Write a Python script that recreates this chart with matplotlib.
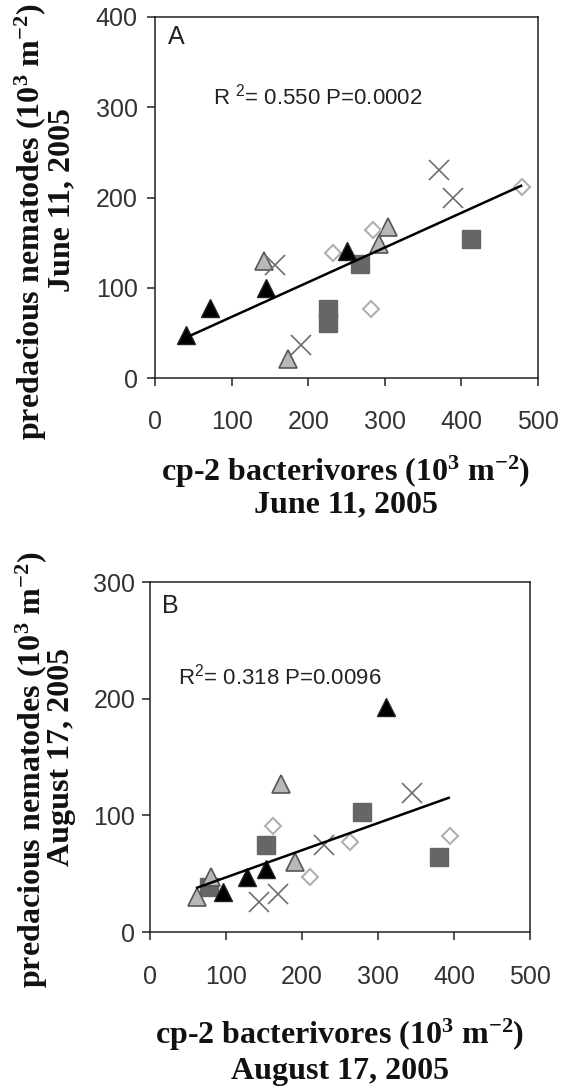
import matplotlib
matplotlib.use('Agg')
import matplotlib.pyplot as plt

W, H = 569, 1090
plt.rcParams['font.family'] = ['Liberation Sans', 'DejaVu Sans']
plt.rcParams['mathtext.default'] = 'regular'

# ---------------- data: panel A (June 11, 2005) ----------------
a_blk_tri_x = [41, 72, 145, 251]
a_blk_tri_y = [48, 78, 100, 141]
a_gry_tri_x = [142, 174, 293, 304]
a_gry_tri_y = [130, 21, 149, 167]
a_sq_x = [226, 226, 267, 412]
a_sq_y = [77, 61, 126, 154]
a_dia_x = [232, 284, 282, 479]
a_dia_y = [139, 164, 76, 212]
a_cross_x = [157, 190, 371, 389]
a_cross_y = [125, 37, 230, 199]
a_fit_x = [41, 478]
a_fit_y = [45, 213]
a_yticks = [0, 100, 200, 300, 400]
a_stat = "R $^{2}$= 0.550 P=0.0002"

# ---------------- data: panel B (August 17, 2005) ----------------
b_blk_tri_x = [96, 128, 152, 310]
b_blk_tri_y = [34, 47, 54, 193]
b_gry_tri_x = [62, 80, 172, 191]
b_gry_tri_y = [30, 47, 127, 60]
b_sq_x = [78, 152, 279, 380]
b_sq_y = [39, 75, 103, 64]
b_dia_x = [162, 210, 263, 395]
b_dia_y = [91, 47, 77, 82]
b_cross_x = [144, 169, 229, 345]
b_cross_y = [26, 33, 75, 119]
b_fit_x = [62, 393]
b_fit_y = [38, 115]
b_yticks = [0, 100, 200, 300]
b_stat = "R$^{2}$= 0.318 P=0.0096"

xticks = [0, 100, 200, 300, 400, 500]

fig = plt.figure(figsize=(W / 100, H / 100), dpi=100)
fig.patch.set_facecolor('white')


def fx(px):
    return px / W


def fy(py):
    return 1 - py / H


def panel(rect, sq, gtri, dia, cross, btri, fit, yticks, letter, letter_xy,
          stat, stat_xy, ylab_pad, xlab_pad):
    ax = fig.add_axes(rect)
    ax.plot(sq[0], sq[1], ls='none', marker='s', ms=13, mfc='#666666',
            mec='#666666', zorder=3)
    ax.plot(gtri[0], gtri[1], ls='none', marker='^', ms=13, mfc='#b8b8b8',
            mec='#555555', mew=1.2, zorder=3)
    ax.plot(dia[0], dia[1], ls='none', marker='D', ms=8.5, mfc='white',
            mec='#b0b0b0', mew=1.5, zorder=3)
    ax.plot(cross[0], cross[1], ls='none', marker='x', ms=14, mec='#6e6e6e',
            mew=1.2, zorder=3)
    ax.plot(btri[0], btri[1], ls='none', marker='^', ms=13, mfc='black',
            mec='#222222', mew=1.0, zorder=4)
    ax.plot(fit[0], fit[1], color='black', lw=1.8, zorder=5)
    ax.set_xlim(0, 500)
    ax.set_ylim(0, yticks[-1])
    ax.set_xticks(xticks)
    ax.set_yticks(yticks)
    ax.tick_params(axis='both', direction='out', length=6, width=1.1,
                   labelsize=18, colors='#222222', labelcolor='#333333')
    ax.tick_params(axis='y', pad=ylab_pad)
    ax.tick_params(axis='x', pad=xlab_pad)
    for s in ax.spines.values():
        s.set_linewidth(1.1)
        s.set_color('#222222')
    fig.text(fx(letter_xy[0]), fy(letter_xy[1]), letter, fontsize=18,
             ha='center', va='center', color='#222222')
    fig.text(fx(stat_xy[0]), fy(stat_xy[1]), stat, fontsize=16,
             ha='left', va='center', color='#222222')
    return ax


rectA = [fx(155), fy(378), fx(538 - 155), (378 - 17) / H]
rectB = [fx(150), fy(932), fx(530 - 150), (932 - 582) / H]

panel(rectA, (a_sq_x, a_sq_y), (a_gry_tri_x, a_gry_tri_y),
      (a_dia_x, a_dia_y), (a_cross_x, a_cross_y),
      (a_blk_tri_x, a_blk_tri_y), (a_fit_x, a_fit_y), a_yticks,
      'A', (176, 37), a_stat, (213, 97), 6.5, 17)
panel(rectB, (b_sq_x, b_sq_y), (b_gry_tri_x, b_gry_tri_y),
      (b_dia_x, b_dia_y), (b_cross_x, b_cross_y),
      (b_blk_tri_x, b_blk_tri_y), (b_fit_x, b_fit_y), b_yticks,
      'B', (170, 606), b_stat, (178, 677), 4.5, 18)

lab = dict(fontsize=23, fontweight='bold',
           family=['Liberation Serif', 'DejaVu Serif'], color='#111111',
           ha='center', va='center')
units = "(10$^{3}$ m$^{-2}$)"

# y labels
fig.text(fx(31), fy(222), "predacious nematodes " + units, rotation=90, **lab)
fig.text(fx(62), fy(200), "June 11, 2005", rotation=90, **lab)
fig.text(fx(32), fy(770), "predacious nematodes " + units, rotation=90, **lab)
fig.text(fx(62), fy(757), "August 17, 2005", rotation=90, **lab)

# x labels
fig.text(fx(346), fy(472), "cp-2 bacterivores " + units, **lab)
fig.text(fx(346), fy(505), "June 11, 2005", **lab)
fig.text(fx(340), fy(1035), "cp-2 bacterivores " + units, **lab)
fig.text(fx(340), fy(1071), "August 17, 2005", **lab)

fig.savefig('out.png', dpi=100, facecolor='white')
